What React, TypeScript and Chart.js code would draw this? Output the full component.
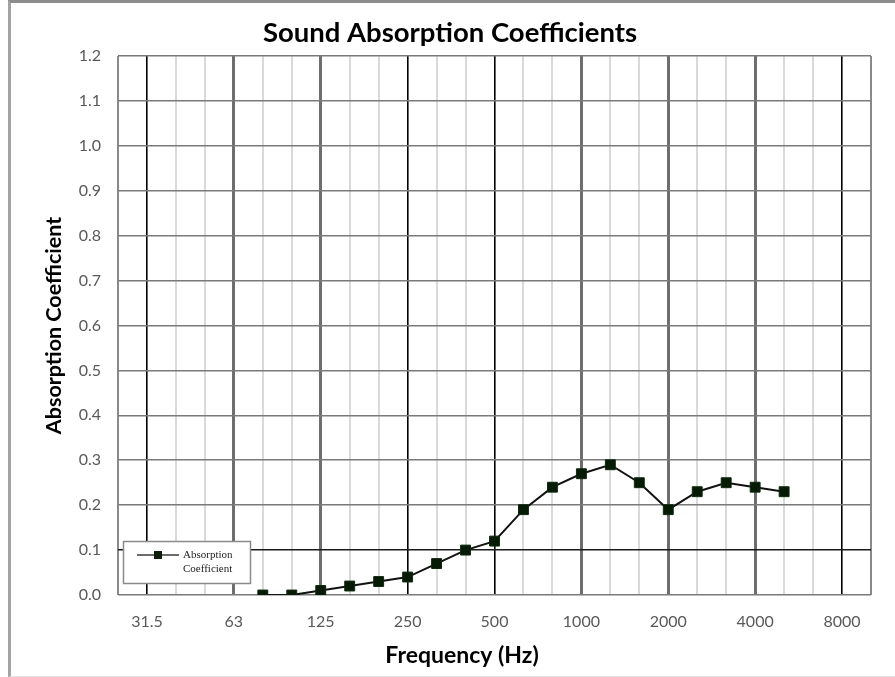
import React, { useEffect, useRef } from "react";
import { Chart, registerables } from "chart.js";

Chart.register(...registerables);

// One-third-octave band centre frequencies (Hz) spanning the x axis
const BANDS = ["25", "31.5", "40", "50", "63", "80", "100", "125", "160", "200", "250", "315", "400", "500", "630", "800", "1000", "1250", "1600", "2000", "2500", "3150", "4000", "5000", "6300", "8000", "10000"];
// Octave bands that get a tick label
const OCTAVE_LABELS = ["31.5", "63", "125", "250", "500", "1000", "2000", "4000", "8000"];
// Octave lines drawn in black (the rest are thick grey)
const BLACK_OCTAVES = ["31.5", "250", "500", "8000"];
// Measured bands and their absorption coefficients
const MEASURED_BANDS = ["80", "100", "125", "160", "200", "250", "315", "400", "500", "630", "800", "1000", "1250", "1600", "2000", "2500", "3150", "4000", "5000"];
const ABSORPTION = [0.0, 0.0, 0.01, 0.02, 0.03, 0.04, 0.07, 0.1, 0.12, 0.19, 0.24, 0.27, 0.29, 0.25, 0.19, 0.23, 0.25, 0.24, 0.23];
const Y_MIN = 0;
const Y_MAX = 1.2;
const Y_STEP = 0.1;

const TITLE = "Sound Absorption Coefficients";
const SERIES_NAME = ["Absorption", "Coefficient"];
const X_TITLE = "Frequency (Hz)";

const textPlugin = {
  id: "boxLegend",
  afterDraw(chart: any) {
    const { ctx } = chart;
    const x0 = 123, y0 = 541, w = 127, h = 42;
    ctx.save();
    ctx.fillStyle = "#ffffff";
    ctx.fillRect(x0, y0, w, h);
    ctx.strokeStyle = "#8a8a8a";
    ctx.lineWidth = 1.5;
    ctx.strokeRect(x0 + 0.5, y0 + 0.5, w, h);
    const ly = y0 + 14;
    ctx.strokeStyle = "#6b6b6b";
    ctx.lineWidth = 2;
    ctx.beginPath();
    ctx.moveTo(x0 + 14, ly);
    ctx.lineTo(x0 + 56, ly);
    ctx.stroke();
    ctx.fillStyle = "#0b1f0b";
    ctx.fillRect(x0 + 31, ly - 4, 8, 8);
    ctx.fillStyle = "#222";
    ctx.font = "11px 'Liberation Serif', 'DejaVu Serif', serif";
    ctx.textBaseline = "middle";
    ctx.textAlign = "left";
    ctx.fillText(SERIES_NAME[0], x0 + 60, ly);
    ctx.fillText(SERIES_NAME[1], x0 + 60, ly + 14);

    ctx.fillStyle = "#000";
    ctx.textAlign = "center";
    // chart title
    ctx.font = "bold 27.5px Lato";
    ctx.fillText(TITLE, 450, 33);
    // x-axis title (sits left of the plot centre in the reference)
    ctx.font = "bold 23px Lato";
    ctx.fillText(X_TITLE, 462, 656);
    ctx.restore();
  },
};

export default function App() {
  const ref = useRef<HTMLCanvasElement | null>(null);

  useEffect(() => {
    if (!ref.current) return;
    const octIdx = OCTAVE_LABELS.map((f) => BANDS.indexOf(f));
    const blackIdx = BLACK_OCTAVES.map((f) => BANDS.indexOf(f));
    const points = MEASURED_BANDS.map((f, i) => ({ x: BANDS.indexOf(f), y: ABSORPTION[i] }));

    const chart = new Chart(ref.current, {
      type: "line",
      data: {
        datasets: [
          {
            label: SERIES_NAME.join(" "),
            data: points,
            borderColor: "#111111",
            borderWidth: 2,
            pointStyle: "rect",
            pointRadius: 7,
            pointBackgroundColor: "#061a06",
            pointBorderColor: "#0d2a0d",
            pointBorderWidth: 1,
            tension: 0,
          },
        ],
      },
      options: {
        animation: false,
        responsive: true,
        maintainAspectRatio: false,
        layout: { padding: { left: 10, right: 24, top: 56, bottom: 0 } },
        plugins: {
          legend: { display: false },
          tooltip: { enabled: false },
          title: { display: false },
        },
        scales: {
          x: {
            type: "linear",
            min: 0,
            max: BANDS.length - 1,
            afterFit: (s: any) => {
              s.height = 82;
            },
            afterBuildTicks: (s: any) => {
              s.ticks = BANDS.map((_, i) => ({ value: i }));
            },
            border: { display: false },
            grid: {
              drawTicks: false,
              color: (c: any) => {
                const v = c.tick.value;
                if (blackIdx.includes(v)) return "#000000";
                if (octIdx.includes(v)) return "#6e6e6e";
                if (v === 0 || v === BANDS.length - 1) return "#8a8a8a";
                return "#d9d9d9";
              },
              lineWidth: (c: any) => {
                const v = c.tick.value;
                if (blackIdx.includes(v)) return 1.6;
                if (octIdx.includes(v)) return 3;
                return 2;
              },
            },
            ticks: {
              autoSkip: false,
              maxRotation: 0,
              padding: 17,
              color: "#595959",
              font: { family: "Lato", size: 16 },
              callback: (v: any) => (octIdx.includes(v) ? BANDS[v] : ""),
            },
            title: { display: false },
          },
          y: {
            min: Y_MIN,
            max: Y_MAX,
            afterFit: (s: any) => {
              s.width = 108;
            },
            border: { display: false },
            grid: {
              drawTicks: false,
              color: (c: any) => (Math.abs(c.tick.value - 0.1) < 1e-6 ? "#1a1a1a" : "#7a7a7a"),
              lineWidth: 1.6,
            },
            ticks: {
              stepSize: Y_STEP,
              padding: 17,
              color: "#595959",
              font: { family: "Lato", size: 16 },
              callback: (v: any) => Number(v).toFixed(1),
            },
            title: {
              display: true,
              text: "Absorption Coefficient",
              color: "#000",
              font: { family: "Lato", size: 21.5, weight: "bold" },
              padding: { top: 31, bottom: 0 },
            },
          },
        },
      },
      plugins: [textPlugin],
    });
    return () => chart.destroy();
  }, []);

  return (
    <div style={{ position: "fixed", left: 0, top: 0, width: 895, height: 677, background: "#fff" }}>
      <div
        style={{
          position: "absolute",
          left: 8,
          top: 0,
          right: 0,
          bottom: 0,
          borderLeft: "3px solid #a3a3a3",
          borderTop: "3px solid #8c8c8c",
          borderBottom: "1px solid #e2e2e2",
          boxSizing: "border-box",
        }}
      />
      <canvas ref={ref} style={{ position: "absolute", left: 0, top: 0, width: 895, height: 677 }} />
    </div>
  );
}
